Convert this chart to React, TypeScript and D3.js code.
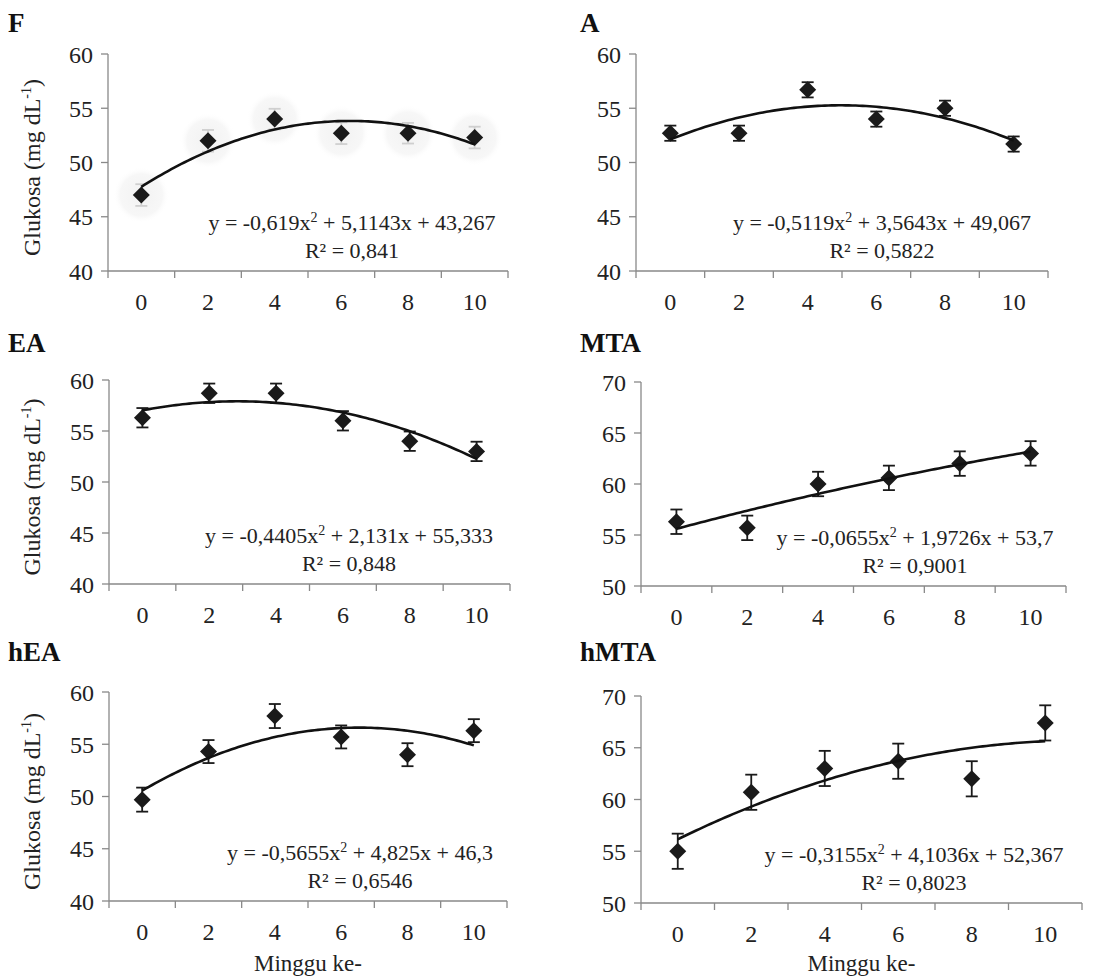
import React from "react";
import { scaleBand, scaleLinear, line, range, curveLinear } from "d3";

// minggu ke- (x categories)
const weeks = ["0", "2", "4", "6", "8", "10"];

// mean glucose per panel
const fMean = [47, 52, 54, 52.7, 52.7, 52.3];
const fErr = [1, 1, 0.95, 1, 0.95, 1];
const aMean = [52.7, 52.7, 56.7, 54, 55, 51.7];
const aErr = [0.7, 0.7, 0.7, 0.7, 0.7, 0.7];
const eaMean = [56.3, 58.7, 58.7, 56, 54, 53];
const eaErr = [0.95, 0.95, 0.95, 0.95, 0.95, 0.95];
const mtaMean = [56.3, 55.7, 60, 60.6, 62, 63];
const mtaErr = [1.2, 1.2, 1.2, 1.2, 1.2, 1.2];
const heaMean = [49.7, 54.3, 57.7, 55.7, 54, 56.3];
const heaErr = [1.15, 1.1, 1.15, 1.1, 1.1, 1.1];
const hmtaMean = [55, 60.7, 63, 63.7, 62, 67.4];
const hmtaErr = [1.7, 1.7, 1.7, 1.7, 1.7, 1.7];

// polynomial trendline coefficients (a x^2 + b x + c), x = 1..6
const fCoef = [-0.619, 5.1143, 43.267];
const aCoef = [-0.5119, 3.5643, 49.067];
const eaCoef = [-0.4405, 2.131, 55.333];
const mtaCoef = [-0.0655, 1.9726, 53.7];
const heaCoef = [-0.5655, 4.825, 46.3];
const hmtaCoef = [-0.3155, 4.1036, 52.367];

const eqText = [
  ["-0,619", "5,1143", "43,267", "0,841"],
  ["-0,5119", "3,5643", "49,067", "0,5822"],
  ["-0,4405", "2,131", "55,333", "0,848"],
  ["-0,0655", "1,9726", "53,7", "0,9001"],
  ["-0,5655", "4,825", "46,3", "0,6546"],
  ["-0,3155", "4,1036", "52,367", "0,8023"],
];

const yTicks1 = [40, 45, 50, 55, 60];
const yTicks2 = [50, 55, 60, 65, 70];

const FONT = "Liberation Serif, Tinos, Times New Roman, DejaVu Serif, serif";
const AXIS = "#898989";
const INK = "#1a1a1a";

const panels = [
  { name: "F", mean: fMean, err: fErr, coef: fCoef, eq: eqText[0], ticks: yTicks1, x0: 108, x1: 508, y0: 54, y1: 271, tx: 8, ty: 32, ex: 352, left: true, halo: true, xTitle: false },
  { name: "A", mean: aMean, err: aErr, coef: aCoef, eq: eqText[1], ticks: yTicks1, x0: 636, x1: 1048, y0: 54, y1: 271, tx: 580, ty: 32, ex: 882, left: false, halo: false, xTitle: false },
  { name: "EA", mean: eaMean, err: eaErr, coef: eaCoef, eq: eqText[2], ticks: yTicks1, x0: 109, x1: 510, y0: 380, y1: 584, tx: 8, ty: 352, ex: 349, left: true, halo: false, xTitle: false },
  { name: "MTA", mean: mtaMean, err: mtaErr, coef: mtaCoef, eq: eqText[3], ticks: yTicks2, x0: 641, x1: 1066, y0: 382, y1: 586, tx: 580, ty: 352, ex: 915, left: false, halo: false, xTitle: false },
  { name: "hEA", mean: heaMean, err: heaErr, coef: heaCoef, eq: eqText[4], ticks: yTicks1, x0: 109, x1: 507, y0: 692, y1: 901, tx: 8, ty: 661, ex: 360, left: true, halo: false, xTitle: true },
  { name: "hMTA", mean: hmtaMean, err: hmtaErr, coef: hmtaCoef, eq: eqText[5], ticks: yTicks2, x0: 641, x1: 1082, y0: 696, y1: 903, tx: 580, ty: 661, ex: 914, left: false, halo: false, xTitle: true },
];

function Panel({ p }: { p: any }) {
  const x = scaleBand().domain(weeks).range([p.x0, p.x1]).padding(0);
  const bw = x.bandwidth();
  const y = scaleLinear().domain([p.ticks[0], p.ticks[p.ticks.length - 1]]).range([p.y1, p.y0]);
  const cx = (w: string) => (x(w) as number) + bw / 2;
  const xLin = scaleLinear().domain([1, weeks.length]).range([cx(weeks[0]), cx(weeks[weeks.length - 1])]);
  const [a, b, c] = p.coef;
  const trend = line<number>()
    .x((t) => xLin(t))
    .y((t) => y(a * t * t + b * t + c))
    .curve(curveLinear)(range(1, weeks.length + 0.001, 0.05));
  const boundaries = weeks.map((w) => x(w) as number).concat([p.x1]);
  const errColor = p.halo ? "#cfcfcf" : INK;
  const d = 8.5;

  return (
    <g>
      <text x={p.tx} y={p.ty} fontWeight="bold" fontSize={27} fill="#111">{p.name}</text>

      {/* y axis */}
      <line x1={p.x0} x2={p.x0} y1={p.y0} y2={p.y1} stroke={AXIS} strokeWidth={1.3} />
      {p.ticks.map((t: number) => (
        <g key={t}>
          <line x1={p.x0 - 7} x2={p.x0} y1={y(t)} y2={y(t)} stroke={AXIS} strokeWidth={1.3} />
          <text x={p.x0 - 15} y={y(t)} dy="0.36em" textAnchor="end" fontSize={24} fill="#222">{t}</text>
        </g>
      ))}

      {/* x axis */}
      <line x1={p.x0} x2={p.x1} y1={p.y1} y2={p.y1} stroke={AXIS} strokeWidth={1.3} />
      {boundaries.map((bx: number, i: number) => (
        <line key={i} x1={bx} x2={bx} y1={p.y1} y2={p.y1 + 7} stroke={AXIS} strokeWidth={1.3} />
      ))}
      {weeks.map((w) => (
        <text key={w} x={cx(w)} y={p.y1 + 39} textAnchor="middle" fontSize={24} fill="#222">{w}</text>
      ))}

      {p.halo && weeks.map((w, i) => (
        <circle key={"h" + w} cx={cx(w)} cy={y(p.mean[i])} r={28} fill="url(#halo)" />
      ))}

      {/* error bars */}
      {weeks.map((w, i) => {
        const hi = y(p.mean[i] + p.err[i]);
        const lo = y(p.mean[i] - p.err[i]);
        return (
          <g key={"e" + w} stroke={errColor} strokeWidth={1.8}>
            <line x1={cx(w)} x2={cx(w)} y1={hi} y2={lo} />
            <line x1={cx(w) - 6} x2={cx(w) + 6} y1={hi} y2={hi} />
            <line x1={cx(w) - 6} x2={cx(w) + 6} y1={lo} y2={lo} />
          </g>
        );
      })}

      {/* markers */}
      {weeks.map((w, i) => {
        const px = cx(w);
        const py = y(p.mean[i]);
        return <path key={"m" + w} d={`M${px},${py - d}L${px + d},${py}L${px},${py + d}L${px - d},${py}Z`} fill={INK} />;
      })}

      <path d={trend || ""} fill="none" stroke="#111" strokeWidth={2.6} />

      {/* equation */}
      <text x={p.ex} y={p.y1 - 41} textAnchor="middle" fontSize={22} fill="#222">
        {`y = ${p.eq[0]}x`}
        <tspan fontSize={14} dy={-8}>2</tspan>
        <tspan dy={8}>{` + ${p.eq[1]}x + ${p.eq[2]}`}</tspan>
      </text>
      <text x={p.ex} y={p.y1 - 13} textAnchor="middle" fontSize={22} fill="#222">
        {`R² = ${p.eq[3]}`}
      </text>

      {p.left && (
        <text
          transform={`translate(32,${(p.y0 + p.y1) / 2 + 5}) rotate(-90)`}
          textAnchor="middle"
          dy="0.35em"
          fontSize={24}
          fill="#222"
        >
          Glukosa (mg dL<tspan fontSize={14} dy={-9}>-1</tspan><tspan dy={9}>)</tspan>
        </text>
      )}
      {p.xTitle && (
        <text x={(p.x0 + p.x1) / 2} y={971} textAnchor="middle" fontSize={23} fill="#222">Minggu ke-</text>
      )}
    </g>
  );
}

export default function App() {
  return (
    <svg
      width={1111}
      height={978}
      fontFamily={FONT}
      style={{ position: "absolute", left: 0, top: 0, background: "#fff", fontFamily: FONT }}
    >
      <defs>
        <radialGradient id="halo">
          <stop offset="0%" stopColor="#f2f2f2" />
          <stop offset="75%" stopColor="#f7f7f7" />
          <stop offset="100%" stopColor="#ffffff" stopOpacity={0} />
        </radialGradient>
      </defs>
      <rect width={1111} height={978} fill="#fff" />
      {panels.map((p) => (
        <Panel key={p.name} p={p} />
      ))}
    </svg>
  );
}
